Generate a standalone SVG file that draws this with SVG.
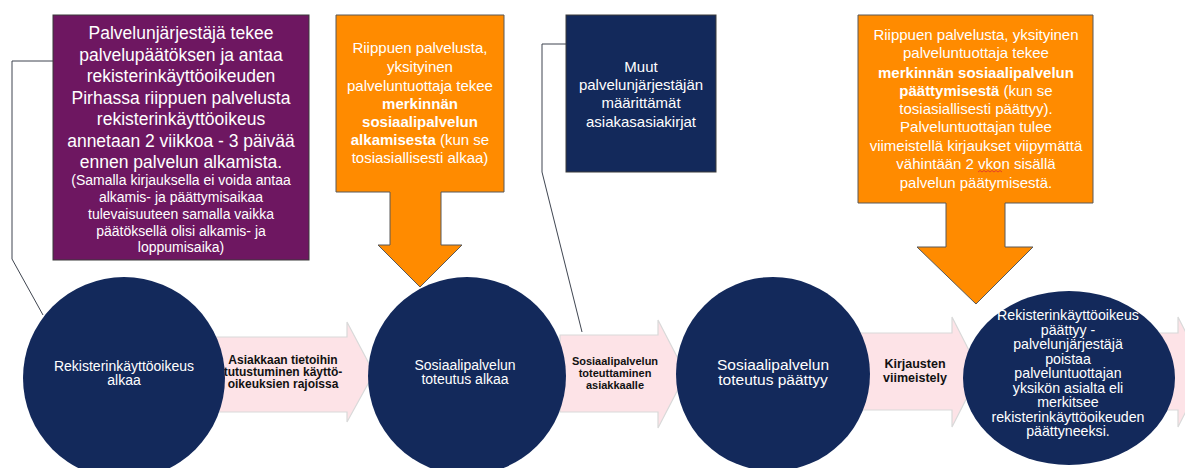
<svg xmlns="http://www.w3.org/2000/svg" width="1185" height="468" viewBox="0 0 1185 468">
<style>
.t{font-family:"Liberation Sans",Arial,sans-serif;fill:#ffffff;text-anchor:middle}
.l{font-family:"Liberation Sans",Arial,sans-serif;fill:#111111;text-anchor:middle;font-weight:bold;font-size:11px}
.b{font-weight:bold}
.arrow{fill:#FDE3E7;stroke:#D9D9D9;stroke-width:1.2}
.circ{fill:#13295B}
.orange{fill:#FF8B00;stroke:#595959;stroke-width:1}
.conn{fill:none;stroke:#3F4550;stroke-width:1}
</style>
<rect width="1185" height="468" fill="#ffffff"/>
<g id="connectors">
<polyline class="conn" points="53,61 12,61 12,259 43,315"/>
<polyline class="conn" points="566,44 542,44 542,172 582,332"/>
</g>
<g id="arrow1"><polygon class="arrow" points="215,337 347,337 347,322 374,373 347,422 347,412 215,412"/>
<text class="l" x="283" y="364" style="font-size:12px">Asiakkaan tietoihin</text>
<text class="l" x="283" y="376" style="font-size:12px">tutustuminen käyttö-</text>
<text class="l" x="283" y="388" style="font-size:12px">oikeuksien rajoissa</text></g>
<g id="arrow2"><polygon class="arrow" points="560,335 658,335 658,320 686,374 658,428 658,412 560,412"/>
<text class="l" x="615" y="365">Sosiaalipalvelun</text>
<text class="l" x="615" y="377">toteuttaminen</text>
<text class="l" x="615" y="389">asiakkaalle</text></g>
<g id="arrow3"><polygon class="arrow" points="860,333 952,333 952,317 980,372 952,427 952,410 860,410"/>
<text class="l" x="915" y="368" style="font-size:12.5px">Kirjausten</text>
<text class="l" x="915" y="382" style="font-size:12.5px">viimeistely</text></g>
<g id="arrow4"><polygon class="arrow" points="1150,333 1178,333 1178,317 1206,372 1178,427 1178,410 1150,410"/></g>
<g id="node1"><circle class="circ" cx="124" cy="378" r="101"/>
<text class="t" x="124" y="371" font-size="14">Rekisterinkäyttöoikeus</text>
<text class="t" x="124" y="385" font-size="14">alkaa</text></g>
<g id="node2"><circle class="circ" cx="467" cy="376" r="99"/>
<text class="t" x="465" y="370" font-size="14">Sosiaalipalvelun</text>
<text class="t" x="465" y="384" font-size="14">toteutus alkaa</text></g>
<g id="node3"><circle class="circ" cx="773" cy="374" r="97"/>
<text class="t" x="773" y="370" font-size="15.5">Sosiaalipalvelun</text>
<text class="t" x="773" y="385" font-size="15.5">toteutus päättyy</text></g>
<g id="node4"><ellipse class="circ" cx="1069" cy="378" rx="106" ry="87"/>
<text class="t" font-size="14.2"><tspan x="1068" y="320">Rekisterinkäyttöoikeus</tspan><tspan x="1068" y="335">päättyy -</tspan><tspan x="1068" y="349">palvelunjärjestäjä</tspan><tspan x="1068" y="364">poistaa</tspan><tspan x="1068" y="378">palveluntuottajan</tspan><tspan x="1068" y="393">yksikön asialta eli</tspan><tspan x="1068" y="407">merkitsee</tspan><tspan x="1068" y="422">rekisterinkäyttöoikeuden</tspan><tspan x="1068" y="436">päättyneeksi.</tspan></text></g>
<g id="purple"><rect x="53" y="15" width="256" height="245" fill="#6E1761" stroke="#3A3A3A" stroke-width="1"/>
<text class="t" font-size="17.5"><tspan x="181" y="39">Palvelunjärjestäjä tekee</tspan><tspan x="181" y="60.5">palvelupäätöksen ja antaa</tspan><tspan x="181" y="82">rekisterinkäyttöoikeuden</tspan><tspan x="181" y="103.5">Pirhassa riippuen palvelusta</tspan><tspan x="181" y="125">rekisterinkäyttöoikeus</tspan><tspan x="181" y="146.5">annetaan 2 viikkoa - 3 päivää</tspan><tspan x="181" y="168">ennen palvelun alkamista.</tspan></text>
<text class="t" font-size="14"><tspan x="181" y="185">(Samalla kirjauksella ei voida antaa</tspan><tspan x="181" y="202">alkamis- ja päättymisaikaa</tspan><tspan x="181" y="219">tulevaisuuteen samalla vaikka</tspan><tspan x="181" y="236">päätöksellä olisi alkamis- ja</tspan><tspan x="181" y="252">loppumisaika)</tspan></text></g>
<g id="orange1"><polygon class="orange" points="336,15 504,15 504,192 441,192 441,245 462,245 420,287 378,245 390,245 390,192 336,192"/>
<text class="t" font-size="15"><tspan x="420" y="53">Riippuen palvelusta,</tspan><tspan x="420" y="72">yksityinen</tspan><tspan x="420" y="91">palveluntuottaja tekee</tspan><tspan x="420" y="109" class="b">merkinnän</tspan><tspan x="420" y="127" class="b">sosiaalipalvelun</tspan><tspan x="420" y="145"><tspan class="b">alkamisesta</tspan> (kun se</tspan><tspan x="420" y="163">tosiasiallisesti alkaa)</tspan></text></g>
<g id="navy"><rect x="566" y="15" width="150" height="157" fill="#13295B" stroke="#3A3A3A" stroke-width="1"/>
<text class="t" font-size="15"><tspan x="641" y="72">Muut</tspan><tspan x="641" y="90">palvelunjärjestäjän</tspan><tspan x="641" y="108">määrittämät</tspan><tspan x="641" y="127">asiakasasiakirjat</tspan></text></g>
<g id="orange2"><polygon class="orange" points="858,15 1093,15 1093,203 1005,203 1005,247 1033,247 976,304 917,247 946,247 946,203 858,203"/>
<text class="t" font-size="15"><tspan x="976" y="40">Riippuen palvelusta, yksityinen</tspan><tspan x="976" y="58">palveluntuottaja tekee</tspan><tspan x="976" y="78" class="b">merkinnän sosiaalipalvelun</tspan><tspan x="976" y="96"><tspan class="b">päättymisestä</tspan> (kun se</tspan><tspan x="976" y="114">tosiasiallisesti päättyy).</tspan><tspan x="976" y="132">Palveluntuottajan tulee</tspan><tspan x="976" y="151">viimeistellä kirjaukset viipymättä</tspan><tspan x="976" y="169">vähintään 2 vkon sisällä</tspan><tspan x="976" y="188">palvelun päätymisestä.</tspan></text>
<path d="M978,172 l2,-1.5 l2,1.5 l2,-1.5 l2,1.5 l2,-1.5 l2,1.5 l2,-1.5 l2,1.5 l2,-1.5 l2,1.5 l2,-1.5 l2,1.5" fill="none" stroke="#E03030" stroke-width="0.8"/></g>
</svg>
